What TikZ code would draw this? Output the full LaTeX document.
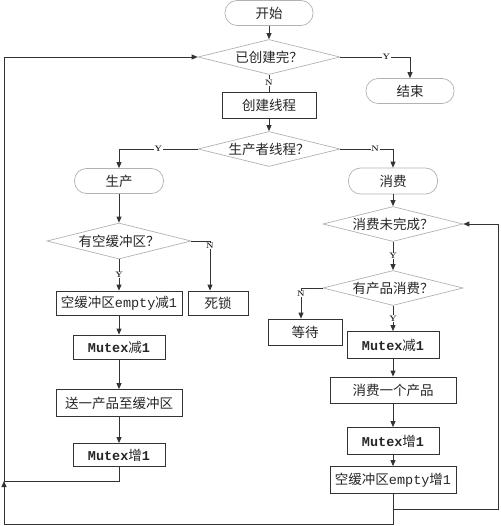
\documentclass[tikz,border=0pt]{standalone}
\usepackage{fontspec}
\usetikzlibrary{shapes.geometric,arrows.meta}
\newfontfamily\cjkfont{Noto Sans CJK SC}
\newfontfamily\latmono{Liberation Mono}
\newcommand\mt[1]{{\latmono #1}}
\newcommand\mtb[1]{{\latmono\bfseries #1}}
\tikzset{
  base/.style={inner sep=0pt, text=black!85, font=\cjkfont\fontsize{13.5}{14}\selectfont},
  term/.style={base, draw=gray!60, line width=0.7pt, rounded corners=12pt, minimum width=88pt, minimum height=25pt},
  proc/.style={base, draw=black!80, line width=0.8pt, minimum height=25pt},
  dec/.style={base, draw=gray!60, line width=0.7pt, diamond, aspect=4, minimum width=142pt, minimum height=35pt},
  conn/.style={draw=black!80, line width=0.8pt},
  arr/.style={conn, -{Triangle[width=5pt,length=6pt]}},
  yn/.style={fill=white, inner sep=0.6pt, font=\fontsize{8}{8}\selectfont\bfseries, text=black!85}
}
\begin{document}
\begin{tikzpicture}[x=1pt,y=-1pt]
\useasboundingbox (0,0) rectangle (500,526);
% nodes
\node[term] (start) at (269,13) {开始};
\node[dec] (d1) at (269,57) {已创建完？};
\node[term] (fin) at (410,91) {结束};
\node[proc, minimum width=94pt, minimum height=26pt] (create) at (269,105) {创建线程};
\node[dec] (d2) at (269,149) {生产者线程？};
\node[term, minimum width=89pt] (prod) at (119,181) {生产};
\node[dec, minimum width=144pt, minimum height=36pt] (d3) at (119,241) {有空缓冲区？};
\node[proc, minimum width=126pt, minimum height=24pt] (p1) at (119,303) {空缓冲区\mt{empty}减\mt{1}};
\node[proc, minimum width=60pt, minimum height=24pt] (dead) at (218,303) {死锁};
\node[proc, minimum width=92pt, minimum height=24pt] (p2) at (119,347) {\mtb{Mutex}减\mtb{1}};
\node[proc, minimum width=126pt, minimum height=27pt] (p3) at (119,403) {送一产品至缓冲区};
\node[proc, minimum width=92pt, minimum height=23pt] (p4) at (119,455) {\mtb{Mutex}增\mtb{1}};
\node[term, minimum width=89pt, minimum height=26pt] (cons) at (393,181) {消费};
\node[dec, minimum width=140pt] (d4) at (393,224) {消费未完成？};
\node[dec, minimum width=140pt] (d5) at (393,288) {有产品消费？};
\node[proc, minimum width=74pt, minimum height=26pt] (wait) at (305,332) {等待};
\node[proc, minimum width=92pt, minimum height=27pt] (c1) at (393,345) {\mtb{Mutex}减\mtb{1}};
\node[proc, minimum width=126pt, minimum height=26pt] (c2) at (393,390) {消费一个产品};
\node[proc, minimum width=92pt, minimum height=27pt] (c3) at (393,441) {\mtb{Mutex}增\mtb{1}};
\node[proc, minimum width=126pt, minimum height=27pt] (c4) at (393,480) {空缓冲区\mt{empty}增\mt{1}};
% helper coordinates
\coordinate (lj) at (4,481);
\coordinate (lb) at (4,524);
\coordinate (lt) at (4,57);
\coordinate (rb) at (498,509);
% connectors
\draw[arr] (start) -- (d1);
\draw[arr] (d1.east) -| (fin.north) node[yn, pos=0.33] {Y};
\draw[conn] (d1.south) -- (create.north) node[yn, pos=0.45] {N};
\draw[arr] (create) -- (d2);
\draw[arr] (d2.west) -| (prod.north) node[yn, pos=0.25] {Y};
\draw[arr] (d2.east) -| (cons.north) node[yn, pos=0.33] {N};
\draw[arr] (prod) -- (d3);
\draw[arr] (d3.south) -- (p1.north) node[yn, midway] {Y};
\draw[arr] (d3.east) -| ([xshift=-8pt]dead.north) node[yn, pos=0.55] {N};
\draw[arr] (p1) -- (p2);
\draw[arr] (p2) -- (p3);
\draw[arr] (p3) -- (p4);
\draw[conn] (p4.south) |- (lj);
\draw[arr] (c4.south) |- (lb) -- (lj);
\draw[arr] (lj) -- (lt) -- (d1.west);
\draw[arr] (cons) -- (d4);
\draw[arr] (d4.south) -- (d5.north) node[yn, midway] {Y};
\draw[arr] (d5.west) -| ([xshift=-4pt]wait.north) node[yn, pos=0.6] {N};
\draw[arr] (d5.south) -- (c1.north) node[yn, midway] {Y};
\draw[arr] (c1) -- (c2);
\draw[arr] (c2) -- (c3);
\draw[arr] (c3) -- (c4);
\draw[arr] (c4.south |- rb) -- (rb) |- (d4.east);
\end{tikzpicture}
\end{document}
